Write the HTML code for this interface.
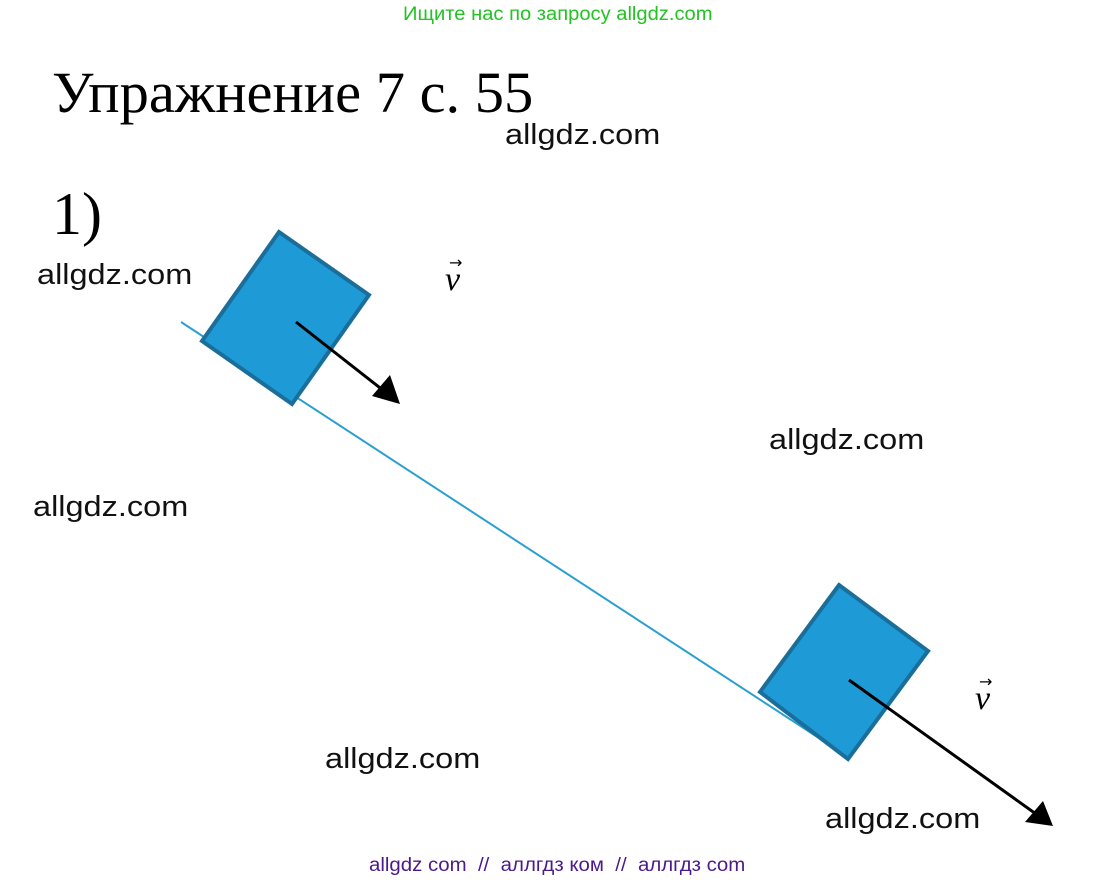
<!DOCTYPE html>
<html><head><meta charset="utf-8"><style>
html,body{margin:0;padding:0;background:#fff;width:1117px;height:884px;overflow:hidden;position:relative}
.t{position:absolute;font-family:"Liberation Sans",sans-serif;white-space:nowrap;transform-origin:left top}
.w{font-size:29px;color:#111;transform:scaleX(1.12)}
.s{position:absolute;font-family:"Liberation Serif",serif;color:#000;white-space:nowrap}
</style></head><body>
<div class="t" style="left:403px;top:4px;font-size:19px;color:#22c322;transform:scaleX(1.06)">Ищите нас по запросу allgdz.com</div>
<div class="s" style="left:52px;top:59px;font-size:58.5px">Упражнение 7 с. 55</div>
<div class="s" style="left:52px;top:180px;font-size:60px">1)</div>
<div class="t w" style="left:505px;top:119px">allgdz.com</div>
<div class="t w" style="left:37px;top:259px">allgdz.com</div>
<div class="t w" style="left:769px;top:424px">allgdz.com</div>
<div class="t w" style="left:33px;top:491px">allgdz.com</div>
<div class="t w" style="left:325px;top:743px">allgdz.com</div>
<div class="t w" style="left:825px;top:803px">allgdz.com</div>
<div class="t" style="left:369px;top:855px;font-size:19px;color:#4b1a8a;transform:scaleX(1.075)">allgdz com &nbsp;// &nbsp;аллгдз ком &nbsp;// &nbsp;аллгдз com</div>
<svg width="1117" height="884" style="position:absolute;left:0;top:0">
<line x1="181" y1="322" x2="848" y2="757" stroke="#2a9fd0" stroke-width="2"/>
<polygon points="279,232 369,295 292,404 202,341" fill="#1e9bd7" stroke="#1a6e99" stroke-width="4"/>
<polygon points="839,585 928,651 848,759 760,692" fill="#1e9bd7" stroke="#1a6e99" stroke-width="4"/>
<line x1="296" y1="322" x2="384" y2="391" stroke="#000" stroke-width="3"/>
<polygon points="400,404 372,396 390,375" fill="#000"/>
<line x1="849" y1="680" x2="1036" y2="814" stroke="#000" stroke-width="3"/>
<polygon points="1053,826 1025,822 1043,801" fill="#000"/>
<text x="445" y="290" font-family="Liberation Serif,serif" font-style="italic" font-size="34">v</text>
<text x="449" y="268" font-family="DejaVu Sans,sans-serif" font-size="16">→</text>
<text x="975" y="709" font-family="Liberation Serif,serif" font-style="italic" font-size="34">v</text>
<text x="979" y="687" font-family="DejaVu Sans,sans-serif" font-size="16">→</text>
</svg>
</body></html>
